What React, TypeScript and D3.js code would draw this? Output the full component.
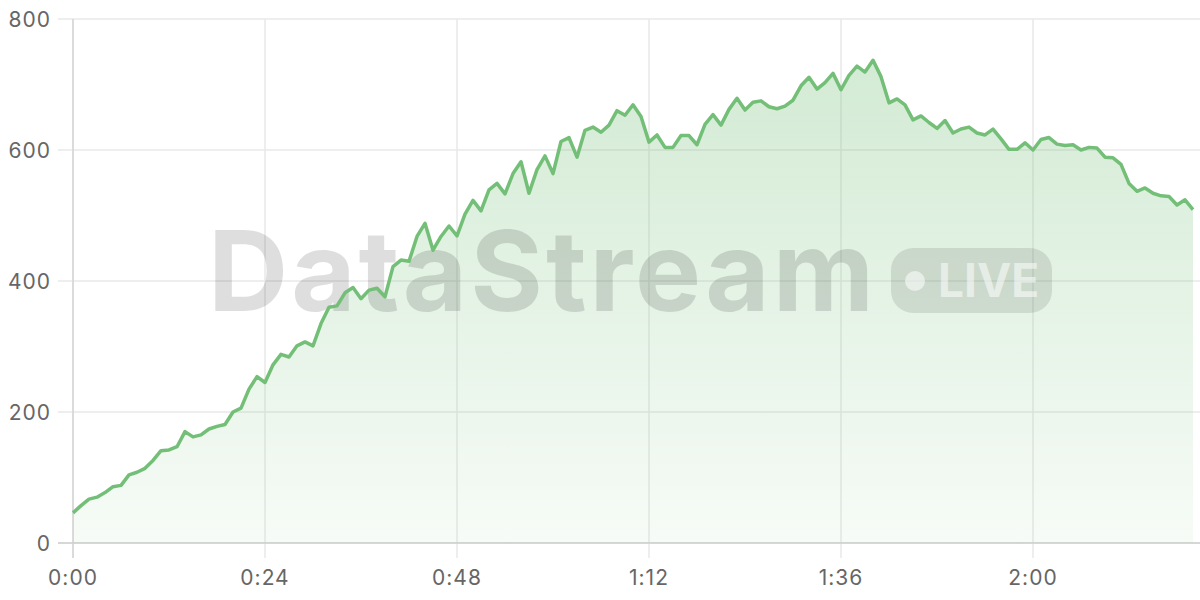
import React from "react";
import * as d3 from "d3";

const values: number[] = [
  46, 57, 67, 70, 77, 86, 88, 104, 108, 114,
  126, 141, 142, 147, 170, 162, 165, 174, 178, 181,
  200, 206, 235, 254, 245, 272, 288, 284, 301, 307,
  301, 335, 360, 362, 382, 390, 373, 386, 389, 376,
  422, 432, 430, 468, 488, 447, 468, 484, 469, 502,
  523, 507, 539, 549, 533, 564, 582, 534, 570, 591,
  564, 613, 619, 589, 630, 635, 627, 638, 660, 653,
  669, 651, 612, 623, 604, 604, 622, 622, 608, 639,
  654, 638, 662, 679, 661, 673, 675, 666, 663, 667,
  676, 698, 711, 693, 703, 717, 692, 714, 728, 719,
  737, 712, 672, 678, 669, 646, 652, 642, 633, 645,
  626, 632, 635, 626, 623, 632, 617, 601, 601, 611,
  600, 616, 619, 609, 607, 608, 600, 604, 603, 589,
  588, 578, 549, 537, 542, 534, 530, 529, 516, 524,
  509,
];

const xTicks: number[] = [0, 24, 48, 72, 96, 120];
const yTicks: number[] = [0, 200, 400, 600, 800];

const W = 1200;
const H = 600;
const left = 73;
const right = 1193;
const top = 19;
const bottom = 543;

const fmtTime = (s: number) => `${Math.floor(s / 60)}:${String(s % 60).padStart(2, "0")}`;

export default function App() {
  const x = d3.scaleLinear().domain([0, values.length - 1]).range([left, right]);
  const y = d3.scaleLinear().domain([0, 800]).range([bottom, top]);

  const line = d3
    .line<number>()
    .x((_, i) => x(i))
    .y((d) => y(d));
  const area = d3
    .area<number>()
    .x((_, i) => x(i))
    .y0(y(0))
    .y1((d) => y(d));

  const font = "Inter, 'Noto Sans', sans-serif";
  const lineColor = "#74bf78";

  return (
    <svg
      width={W}
      height={H}
      style={{ position: "fixed", left: 0, top: 0, background: "#fff" }}
    >
      <defs>
        <linearGradient id="fillGrad" x1="0" y1={top} x2="0" y2={bottom} gradientUnits="userSpaceOnUse">
          <stop offset="0%" stopColor={lineColor} stopOpacity={0.34} />
          <stop offset="100%" stopColor={lineColor} stopOpacity={0.06} />
        </linearGradient>
      </defs>

      {/* grid */}
      {yTicks.map((t) => (
        <line key={"gy" + t} x1={left - 15} x2={W} y1={y(t)} y2={y(t)} stroke="#e9e9e9" strokeWidth={1.5} />
      ))}
      {xTicks.map((t) => (
        <line key={"gx" + t} x1={x(t)} x2={x(t)} y1={top} y2={bottom + 15} stroke="#e9e9e9" strokeWidth={1.5} />
      ))}
      <line x1={left} x2={left} y1={top} y2={bottom + 15} stroke="#d4d4d4" strokeWidth={1.5} />
      <line x1={left - 15} x2={W} y1={bottom} y2={bottom} stroke="#cfcfcf" strokeWidth={1.5} />

      {/* area */}
      <path d={area(values) || ""} fill="url(#fillGrad)" />

      {/* watermark */}
      <g fontFamily={font} fontWeight={700}>
        <text x={208} y={311} fontSize={111} fill="#000" fillOpacity={0.13} letterSpacing={3}>
          DataStream
        </text>
        <rect x={891} y={248} width={161} height={65} rx={22} fill="#000" fillOpacity={0.1} />
        <circle cx={915} cy={281} r={10} fill="#fff" fillOpacity={0.55} />
        <text x={938} y={297} fontSize={46} fill="#fff" fillOpacity={0.55}>
          LIVE
        </text>
      </g>

      {/* line */}
      <path d={line(values) || ""} fill="none" stroke={lineColor} strokeWidth={3.5} strokeLinejoin="round" />

      {/* y labels */}
      {yTicks.map((t) => (
        <text key={"ly" + t} x={51} y={y(t) + 8} textAnchor="end" fontFamily={font} fontSize={21} fill="#666" letterSpacing={1}>
          {t}
        </text>
      ))}
      {/* x labels */}
      {xTicks.map((t) => (
        <text key={"lx" + t} x={x(t)} y={585} textAnchor="middle" fontFamily={font} fontSize={21} fill="#666" letterSpacing={1}>
          {fmtTime(t)}
        </text>
      ))}
    </svg>
  );
}
